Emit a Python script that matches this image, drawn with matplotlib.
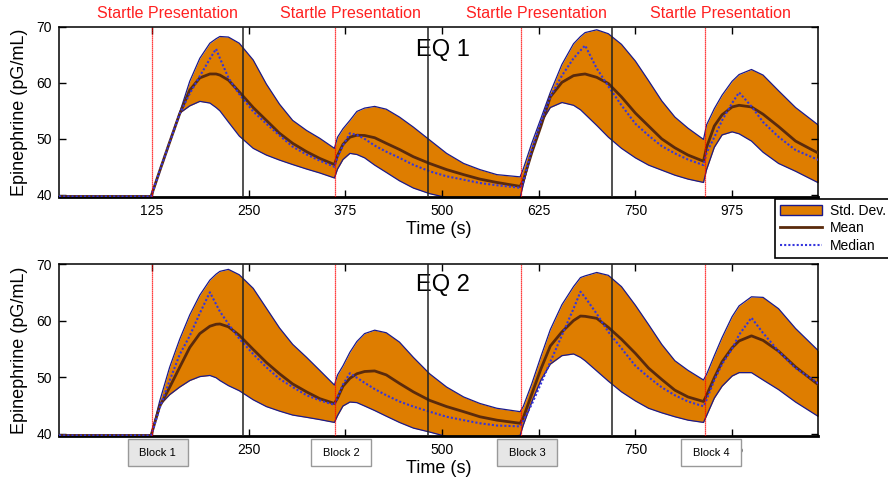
import numpy as np
import matplotlib
matplotlib.use('Agg')
import matplotlib.pyplot as plt
from matplotlib.patches import Rectangle, Patch
from matplotlib.lines import Line2D

plt.rcParams['font.family'] = ['Liberation Sans', 'DejaVu Sans']

# time grid (s) shared by every curve
time_s = [5, 124, 135, 148, 161, 174, 187, 200, 208, 213,
          224, 238, 256, 273, 290, 307, 325, 342, 361, 365,
          372, 381, 390, 400, 413, 428, 445, 463, 484, 506,
          528, 549, 571, 601, 605, 616, 628, 640, 655, 670,
          679, 685, 700, 715, 732, 750, 767, 784, 801, 818,
          838, 842, 852, 862, 875, 884, 900, 915, 935, 957,
          987]

# EQ 1 (top panel)
eq1_upper = [39.7, 39.7, 44.2, 49.4, 54.7, 60.3, 64.4, 67.1, 67.9, 68.3,
             68.2, 67.1, 64.1, 59.8, 56.2, 53.3, 51.5, 50.1, 48.3, 50.3,
             51.8, 53.3, 54.9, 55.5, 55.8, 55.3, 53.9, 52.1, 49.8, 47.4,
             45.6, 44.5, 43.6, 43.2, 44.6, 49.2, 53.7, 58.3, 63.3, 67.0,
             68.3, 69.0, 69.5, 68.8, 66.9, 63.9, 60.4, 56.8, 53.9, 51.9,
             49.9, 52.5, 55.4, 57.8, 60.3, 61.5, 62.4, 61.4, 58.6, 55.6,
             52.4]
eq1_lower = [39.7, 39.7, 44.2, 49.4, 54.6, 55.9, 56.7, 56.4, 55.6, 55.0,
             53.0, 50.5, 48.3, 47.1, 46.2, 45.4, 44.6, 43.9, 43.0, 44.6,
             46.3, 47.4, 47.2, 46.6, 45.3, 44.0, 42.5, 41.2, 40.2, 39.5,
             39.4, 39.4, 39.4, 39.5, 41.8, 47.8, 52.9, 55.6, 56.5, 56.0,
             55.2, 54.4, 52.4, 50.3, 48.3, 46.6, 45.3, 44.4, 43.5, 42.8,
             42.2, 44.5, 48.5, 50.7, 51.25, 50.9, 49.6, 47.6, 45.6, 44.2,
             42.1]
eq1_mean = [39.7, 39.7, 44.2, 49.4, 54.5, 58.7, 60.9, 61.6, 61.6, 61.4,
            60.5, 58.4, 55.6, 53.3, 51.0, 49.2, 47.7, 46.5, 45.4, 47.0,
            49.0, 50.3, 50.65, 50.6, 50.2, 49.2, 48.1, 46.8, 45.6, 44.5,
            43.6, 42.8, 42.2, 41.5, 42.5, 47.5, 52.3, 57.5, 60.1, 61.3,
            61.5, 61.6, 61.0, 59.9, 57.5, 54.6, 52.3, 50.0, 48.4, 47.1,
            46.0, 48.5, 52.3, 54.3, 55.7, 56.0, 55.7, 54.4, 52.2, 49.6,
            47.4]
eq1_median = [39.7, 39.7, 44.2, 49.4, 54.5, 58.1, 61.2, 64.3, 66.1, 64.4,
              60.9, 58.0, 54.9, 52.7, 50.6, 48.6, 47.2, 46.1, 45.0, 46.8,
              48.8, 51.0, 50.7, 50.0, 48.8, 47.7, 46.6, 45.35, 44.2, 43.3,
              42.7, 42.1, 41.7, 41.25, 42.3, 48.0, 53.0, 57.5, 61.3, 64.4,
              65.8, 66.7, 62.6, 59.4, 56.0, 52.7, 50.6, 48.7, 47.4, 46.3,
              45.3, 47.5, 50.3, 53.3, 56.4, 58.3, 55.8, 53.0, 50.35, 48.0,
              46.2]

# EQ 2 (bottom panel)
eq2_upper = [39.7, 39.7, 45.7, 51.75, 56.7, 61.0, 64.5, 67.15, 68.2, 68.7,
             69.05, 68.1, 65.7, 62.2, 58.7, 55.8, 53.5, 51.2, 48.6, 50.4,
             52.0, 54.4, 56.3, 57.7, 58.3, 57.85, 56.2, 53.5, 50.6, 48.25,
             46.5, 45.35, 44.5, 43.9, 44.8, 48.8, 53.7, 58.4, 62.8, 66.0,
             67.6, 67.9, 68.5, 68.0, 66.0, 62.7, 59.3, 55.8, 52.9, 51.2,
             49.5, 50.5, 53.8, 57.0, 60.7, 62.6, 64.2, 64.1, 62.1, 58.6,
             54.6]
eq2_lower = [39.7, 39.7, 45.0, 46.9, 48.25, 49.4, 50.1, 50.3, 49.9, 49.4,
             48.5, 47.6, 46.0, 44.8, 44.0, 43.3, 42.9, 42.5, 42.0, 43.2,
             44.9, 45.6, 45.5, 44.9, 44.1, 43.1, 42.0, 41.0, 40.3, 39.5,
             39.4, 39.4, 39.4, 39.7, 41.5, 45.6, 49.5, 52.3, 53.8, 54.1,
             53.5, 52.9, 51.1, 49.3, 47.4, 45.8, 44.5, 43.7, 43.0, 42.4,
             42.0, 43.2, 46.3, 48.4, 50.2, 50.8, 50.8, 49.5, 47.8, 45.6,
             43.0]
eq2_mean = [39.7, 39.7, 44.8, 48.2, 51.75, 55.25, 57.7, 59.0, 59.35, 59.4,
            58.9, 57.4, 54.9, 52.6, 50.6, 48.8, 47.4, 46.2, 45.35, 46.3,
            48.4, 49.8, 50.6, 51.0, 51.1, 50.4, 48.9, 47.4, 45.9, 44.8,
            43.9, 43.0, 42.4, 41.85, 42.8, 47.0, 51.5, 55.5, 58.0, 60.0,
            60.8, 60.75, 60.4, 58.8, 56.7, 54.2, 51.6, 49.6, 47.7, 46.5,
            45.7, 46.8, 49.9, 52.7, 55.2, 56.4, 57.3, 56.5, 54.6, 51.8,
            48.6]
eq2_median = [39.7, 39.7, 44.5, 49.4, 54.0, 57.3, 61.3, 65.0, 62.9, 61.6,
              59.4, 56.8, 54.1, 51.75, 49.7, 48.25, 46.8, 45.9, 45.1, 46.5,
              48.7, 50.7, 49.9, 49.0, 47.9, 46.8, 45.7, 44.8, 43.9, 43.0,
              42.4, 41.85, 41.45, 41.3, 42.3, 45.2, 48.9, 52.7, 57.4, 62.1,
              65.1, 64.1, 61.2, 58.0, 55.1, 52.0, 50.0, 48.2, 46.8, 45.7,
              44.85, 46.0, 49.5, 52.3, 55.0, 57.5, 60.5, 57.8, 54.6, 51.6,
              48.85]

startle_times = [125, 362, 602, 840]
block_bounds = [243, 482, 720]
x_ticks = [125, 250, 375, 500, 625, 750, 875]
x_tick_labels = ['125', '250', '375', '500', '625', '750', '975']
x_tick_labels_bottom = ['', '250', '', '500', '', '750', '975']
y_ticks = [40, 50, 60, 70]
block_labels = ['Block 1', 'Block 2', 'Block 3', 'Block 4']

BAND = '#DE7D00'
EDGE = '#1a1a8c'
MEAN = '#5a2a0c'
MEDIAN = '#3535dd'


def draw_panel(ax, upper, lower, mean, median, title, tick_labels, title_y):
    t = np.array(time_s)
    ax.fill_between(t, lower, upper, color=BAND, lw=0, zorder=1)
    ax.plot(t, upper, c=EDGE, lw=0.9, zorder=2)
    ax.plot(t, lower, c=EDGE, lw=0.9, zorder=2)
    ax.plot(t, mean, c=MEAN, lw=2.0, zorder=3)
    ax.plot(t, median, c=MEDIAN, lw=1.5, ls=(0, (1, 1)), zorder=3)
    for st in startle_times:
        ax.axvline(st, c='red', lw=0.9, ls=(0, (1, 0.6)), zorder=4)
    for bb in block_bounds:
        ax.axvline(bb, c='#222222', lw=1.1, zorder=4)

    ax.set_xlim(5, 986)
    ax.set_ylim(39.6, 70)
    ax.set_xticks(x_ticks)
    ax.set_xticklabels(tick_labels)
    ax.set_yticks(y_ticks)
    ax.tick_params(direction='in', top=True, right=True, labelsize=10,
                   length=5, width=1, pad=5)
    for s in ax.spines.values():
        s.set_linewidth(1.1)
    ax.spines['bottom'].set_linewidth(2.0)
    ax.set_xlabel('Time (s)', fontsize=13, labelpad=2)
    ax.set_ylabel('Epinephrine (pG/mL)', fontsize=13, labelpad=6)
    ax.text(0.506, title_y, title, transform=ax.transAxes, fontsize=17,
            ha='center', va='center')


def main():
    assert all(len(a) == len(time_s) for a in
               [eq1_upper, eq1_lower, eq1_mean, eq1_median,
                eq2_upper, eq2_lower, eq2_mean, eq2_median])

    fig = plt.figure(figsize=(8.88, 4.82), dpi=100)
    W, H = 888.0, 482.0

    ax_top = fig.add_axes([59 / W, 1 - 197 / H, 759 / W, 170 / H])
    ax_bot = fig.add_axes([59 / W, 1 - 436 / H, 759 / W, 172 / H])

    draw_panel(ax_top, eq1_upper, eq1_lower, eq1_mean, eq1_median, 'EQ 1',
               x_tick_labels, 0.865)
    draw_panel(ax_bot, eq2_upper, eq2_lower, eq2_mean, eq2_median, 'EQ 2',
               x_tick_labels_bottom, 0.875)

    # startle labels above the top panel
    for st in startle_times:
        ax_top.annotate('Startle Presentation', xy=(st, 1.0),
                        xycoords=('data', 'axes fraction'),
                        xytext=(11, 10), textcoords='offset points',
                        ha='center', va='center', color='#ff2020',
                        fontsize=11.5)

    # block boxes over the bottom tick labels
    for i, (st, lab) in enumerate(zip(startle_times, block_labels)):
        px = ax_bot.transData.transform((st, 40))[0] / W
        x0 = px - 24 / W
        face = '#e6e6e6' if i % 2 == 0 else 'white'
        fig.add_artist(Rectangle((x0, 1 - 466 / H), 60 / W, 27 / H,
                                 transform=fig.transFigure, facecolor=face,
                                 edgecolor='#999999', lw=1, zorder=5))
        fig.text(x0 + 30 / W, 1 - 453 / H, lab, fontsize=8, ha='center',
                 va='center', zorder=6)

    handles = [Patch(facecolor=BAND, edgecolor=EDGE, lw=1),
               Line2D([], [], c=MEAN, lw=2),
               Line2D([], [], c=MEDIAN, lw=1.5, ls=(0, (1, 1)))]
    leg = fig.legend(handles, ['Std. Dev.', 'Mean', 'Median'],
                     loc='upper left', bbox_to_anchor=(775 / W, 1 - 199 / H),
                     fontsize=10, fancybox=False, edgecolor='black',
                     framealpha=1, borderpad=0.35, labelspacing=0.25,
                     handlelength=3.0, handletextpad=0.6,
                     borderaxespad=0)
    leg.get_frame().set_linewidth(1.2)

    fig.savefig('out.png', dpi=100)


if __name__ == '__main__':
    main()
